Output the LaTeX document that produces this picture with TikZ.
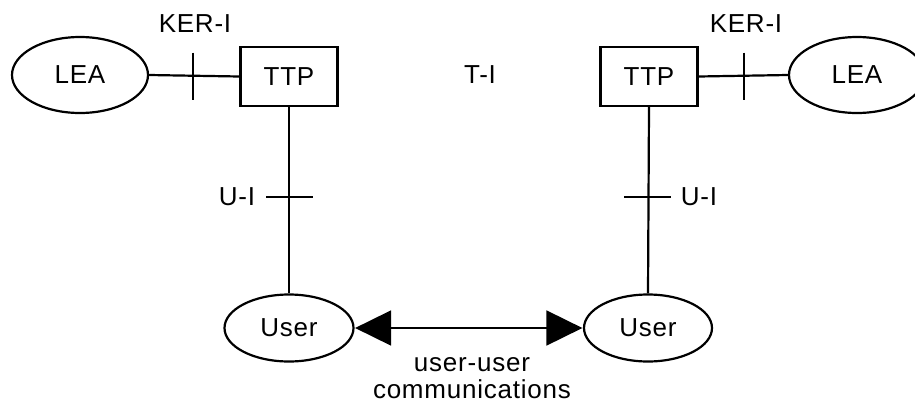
\documentclass[tikz,border=0pt]{standalone}
\usepackage{fontspec}
\setmainfont{Liberation Sans}[LetterSpace=3]
\usetikzlibrary{shapes.geometric,arrows.meta}
\begin{document}
\begin{tikzpicture}[x=1pt,y=-1pt,
  every node/.style={font=\fontsize{26}{30}\selectfont, inner sep=0pt},
  ent/.style={draw, ellipse, line width=2.2pt},
  box/.style={draw, rectangle, line width=2.2pt, minimum width=97pt, minimum height=59pt},
  conn/.style={line width=2.2pt},
  lbl/.style={}]
\useasboundingbox (0,0) rectangle (915,405);
\begin{scope}
\clip (0,0) rectangle (915,405);
\node[ent, minimum width=136pt, minimum height=76pt] (leaL) at (80,75) {LEA};
\node[ent, minimum width=136pt, minimum height=76pt] (leaR) at (857,75) {LEA};
\end{scope}
\node[box] (tL) at (289,76.5) {TTP};
\node[box] (tR) at (649,76.5) {TTP};
\node[ent, minimum width=129pt, minimum height=67pt] (uL) at (289,328) {User};
\node[ent, minimum width=128pt, minimum height=67pt] (uR) at (648,328) {User};
% connectors
\draw[conn] (leaL.east) -- (tL.west);
\draw[conn] (tR.east) -- (leaR.west);
\draw[conn] (tL.south) -- (uL.north);
\draw[conn] (tR.south) -- (uR.north);
\draw[line width=1.8pt, {Triangle[length=36pt,width=35pt]}-{Triangle[length=36pt,width=35pt]}, shorten <=0.5pt, shorten >=0.5pt] (uL.east) -- (uR.west);
% ticks
\coordinate (kL) at (193,76);
\coordinate (kR) at (744,76);
\coordinate (iL) at (289,197);
\coordinate (iR) at (648,197);
\draw[conn] (kL) ++(0,-23.5) -- ++(0,47);
\draw[conn] (kR) ++(0,-23.5) -- ++(0,47);
\draw[conn] (iL) ++(-23,0) -- ++(47,0);
\draw[conn] (iR) ++(-24,0) -- ++(47,0);
% labels
\node[lbl] (lk1) at (195,24) {KER-I};
\node[lbl] (lk2) at (746,24) {KER-I};
\node[lbl] (lt) at (480,75) {T-I};
\node[lbl] (lu1) at (237,197) {U-I};
\node[lbl] (lu2) at (699,197) {U-I};
\node[lbl] (lc1) at (472,365) {user-user};
\node[lbl] (lc2) at (472,389) {communications};
\end{tikzpicture}
\end{document}
